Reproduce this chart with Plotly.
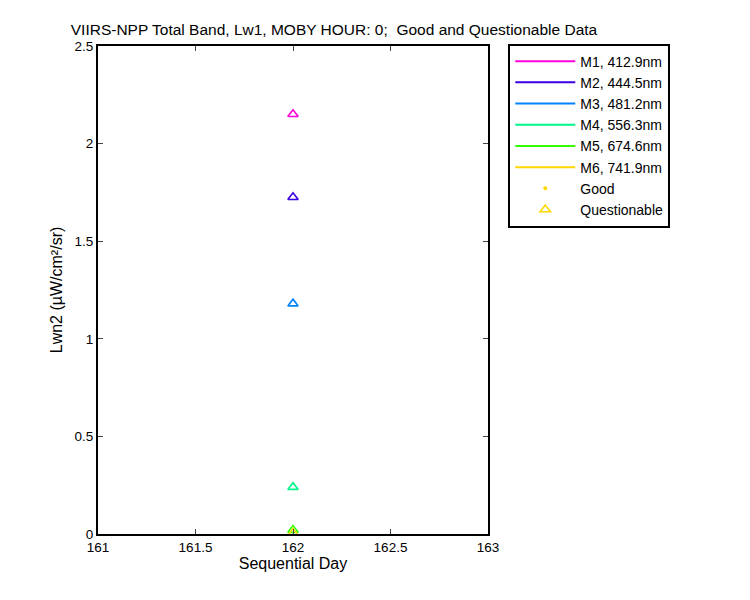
import plotly.graph_objects as go

# band labels and colours
bands = ["M1, 412.9nm", "M2, 444.5nm", "M3, 481.2nm",
         "M4, 556.3nm", "M5, 674.6nm", "M6, 741.9nm"]
band_colors = ["#ff00dd", "#3a00e6", "#0084ff", "#00f58c", "#33ff00", "#ffd700"]

# questionable data points (sequential day, Lwn)
day = [162, 162, 162, 162, 162, 162]
lwn = [2.15, 1.725, 1.18, 0.24, 0.02, 0.005]

fig = go.Figure()

# legend-only lines for each band
for name, col in zip(bands, band_colors):
    fig.add_trace(go.Scatter(x=[None], y=[None], mode="lines", name=name,
                             line=dict(color=col, width=2)))

# the questionable markers
for d, v, col in zip(day, lwn, band_colors):
    fig.add_trace(go.Scatter(x=[d], y=[v], mode="markers", showlegend=False,
                             marker=dict(symbol="triangle-up-open", size=9,
                                         color=col, line=dict(width=1.6, color=col))))

# legend-only Good / Questionable symbols
fig.add_trace(go.Scatter(x=[None], y=[None], mode="markers", name="Good",
                         marker=dict(symbol="circle", size=4, color="#ffd700")))
fig.add_trace(go.Scatter(x=[None], y=[None], mode="markers", name="Questionable",
                         marker=dict(symbol="triangle-up-open", size=9, color="#ffd700",
                                     line=dict(width=1.6, color="#ffd700"))))

# page is drawn with a small body offset, so margins are shifted a little
fig.update_layout(
    width=750, height=600,
    margin=dict(l=90, r=270, t=38, b=74, autoexpand=False),
    paper_bgcolor="white", plot_bgcolor="white",
    font=dict(family="Liberation Sans, Arial", size=15, color="black"),
    title=dict(text="VIIRS-NPP Total Band, Lw1, MOBY HOUR: 0;  Good and Questionable Data",
               x=326 / 750, xanchor="center", y=1 - 22 / 600, yanchor="middle",
               font=dict(size=15.5)),
    legend=dict(x=1.052, xanchor="left", y=1.005, yanchor="top",
                bordercolor="black", borderwidth=2, bgcolor="white",
                font=dict(size=14), itemwidth=60, tracegroupgap=0),
    showlegend=True,
)

fig.update_xaxes(range=[161, 163], dtick=0.5, ticks="inside", ticklen=5,
                 showline=True, linecolor="black", linewidth=2, mirror="allticks",
                 showgrid=False, zeroline=False, automargin=False,
                 title_text="Sequential Day", title_standoff=4,
                 title_font=dict(size=16), tickfont=dict(size=13.5))
fig.update_yaxes(range=[0, 2.5], dtick=0.5, ticks="inside", ticklen=5,
                 showline=True, linecolor="black", linewidth=2, mirror="allticks",
                 showgrid=False, zeroline=False, automargin=False,
                 title_text="Lwn2 (µW/cm²/sr)", title_standoff=8,
                 title_font=dict(size=16), tickfont=dict(size=13.5))

fig.write_html("out.html")
